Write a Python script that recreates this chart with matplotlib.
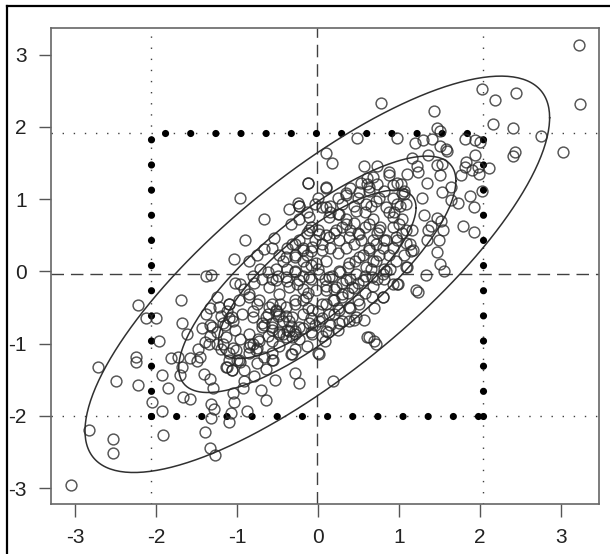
import numpy as np
import matplotlib.pyplot as plt
from matplotlib.lines import Line2D

plt.rcParams['font.family'] = ['Liberation Sans', 'DejaVu Sans']
plt.rcParams['lines.scale_dashes'] = False

# scatter points
x_pts = [3.22, 3.23, 2.03, 2.18, 2.45, 2.16, 2.41, 2.75, 3.02, 2.43, 2.41, 1.43, 0.78, 1.47, 1.50,
         0.48, 0.98, 1.82, 1.94, 2.00, 1.20, 1.30, 1.41, 1.50, 1.58, 1.59, 0.10, 0.17, 1.36, 1.16,
         1.94, 2.11, 1.99, 1.98, 1.81, 1.83, 1.90, 1.77, 1.53, 1.50, 1.47, 1.22, 1.23, 0.57, 0.73,
         0.87, 0.87, 1.10, 0.68, 0.53, 0.61, 1.35, 1.64, 1.53, 2.03, 0.98, 1.02, 1.06, 1.06, -0.12,
         0.10, -0.97, 1.64, 1.73, 1.88, 1.28, 0.97, 1.01, 1.93, 1.79, 1.93, 1.31, 1.47, 1.52, 1.40,
         1.36, 1.54, 1.35, 1.49, 1.47, 1.50, 1.55, 1.33, 1.23, 1.10, 0.99, 1.15, 1.09, 1.04, 0.92,
         -0.67, -0.90, -1.04, -0.36, -0.25, -0.24, -0.34, -0.54,
         -1.39, -1.32, -2.23, -1.69, -2.13, -2.00, -1.68, -1.62, -1.34, -1.33, -1.40, -1.97, -2.72,
         -2.25, -2.25, -2.23, -2.50, -2.05, -1.93, -1.92, -2.83, -2.53, -2.54, -3.05, -1.82, -1.73,
         -1.93, -1.86, -1.71, -1.67, -1.58, -1.50, -1.46, -1.41, -1.33, -1.30, -1.32, -1.29, -1.32,
         -1.40, -1.34, -1.27, -1.10, -1.08, -0.88, -0.93, -0.91, -1.05, -1.04, -1.13, -1.06, -1.00,
         -0.97, -0.79, -0.65, -0.71, -0.65, -0.53, -0.56, -0.28, -0.24, -0.34, 0.00, 0.19, 0.09,
         0.12, 0.25, 0.29, 0.44, 0.57, 0.61, 0.69, 0.69, 0.80, 0.97, 0.89, 0.81,
         -1.25, -1.10, -1.03, -0.96, -1.13, -1.10, -1.05, -1.20, -1.15, -1.03, -0.97, -0.86, -0.84,
         -0.76, -0.74, -1.25, -1.14, -1.25, -0.62, -0.57, -0.48, -0.38, -0.28, -0.24, -0.33, -0.67,
         -0.62, -0.52, -0.47, -0.57, -0.50, -0.40, -0.81, -0.76, -0.86, -0.91, -0.79, -0.69, -0.57,
         -0.50, -0.38, -0.26, -0.19, -0.12, -0.19, -0.28, -0.12, -0.09, 0.00, 0.10, 0.20, 0.25,
         0.37, 0.44, 0.49, 0.58, 0.65, 0.68, 0.75, 0.80, 0.82, 0.73, 0.77, 0.68, 0.58, 0.65, 0.75,
         0.82, 0.87, 0.92, 0.49, 0.44, 0.34, 0.25, 0.15, 0.05, 0.15, 0.25, 0.34, 0.29, 0.20, 0.10,
         0.00, -0.09, -0.14, -0.04, 0.05, 0.15, 0.25, 0.34, 0.44, 0.53, 0.49, 0.39, 0.44, 0.58,
         0.63, 0.56, 0.46, 0.37, 0.27, 0.17, 0.08, 0.00, -0.09, -0.19, -0.28, -0.38, -0.28, -0.19,
         -0.09, -0.14, -0.48, -0.43, -0.52, -0.62, -0.72, -0.81, -0.86, -0.76, -0.67, -0.57, -0.38,
         -0.28, -0.19, -0.09, 0.10, 0.20, 0.29, 0.39, 0.29, 0.20, 0.05, 0.39, 0.49, 0.58, 0.68,
         0.73, 0.82, -0.04, -0.09, -0.19, 0.05, 0.15, -0.28, -0.14, -0.48, -0.57, -0.67,
         -1.10, -1.05, -1.20, -0.86, -0.76, -0.91, -1.43, -1.33, -1.49, -1.58, -1.68,
         -0.24, -0.14, -0.04, 0.00, 0.29, 0.39, 0.63, 0.73, 0.61, 1.13, 1.04, 1.16, 1.06, 0.87,
         0.92, 0.97, 0.94, 0.68,
         # dense centre
         -0.13, 0.10, 0.34, 0.51, 0.63, 0.92, 1.04, 1.09, -0.24, -0.11, 0.10, 0.14, 0.26, 0.34,
         0.22, 0.47, 0.59, 0.71, 0.84, 0.92, 1.00, 0.75, 0.63, 0.51, 0.38, 0.26, 0.14, 0.01,
         -0.11, -0.24, -0.32, -0.40, -0.28, -0.19, -0.07, 0.05, 0.10, -0.03, -0.15, -0.28, -0.40,
         -0.52, -0.61, -0.48, -0.36, -0.24, -0.11, 0.01, 0.14, 0.26, 0.38, 0.51, 0.63, 0.71, 0.84,
         0.96, 1.09, 1.17, 1.09, 0.96, 0.84, 0.71, 0.59, 0.47, 0.34, 0.22, 0.10, -0.03, -0.15,
         -0.28, -0.40, -0.52, -0.65, -0.69, -0.57, -0.44, -0.32, -0.19, -0.07, 0.05, 0.18, 0.30,
         0.42, 0.55, 0.67, 0.80, 0.92, 1.21, 0.80, 0.67, 0.51, 0.38, 0.26, 0.14, 0.01, -0.11,
         -0.24, -0.36, -0.48, -0.32, -0.07, 0.10, 0.26, 0.38, 0.63, 0.71, 0.47, 0.01, -0.32, -0.57,
         # lower-left cluster
         -1.10, -0.98, -0.85, -0.73, -0.61, -0.48, -0.36, -0.28, -0.44, -0.57, -0.69, -0.81, -0.94,
         -1.06, -1.18, -1.31, -1.35, -1.18, -1.02, -0.85, -0.73, -0.57, -0.40, -1.10, -0.98, -1.06,
         -1.14, -0.81, -0.77, -1.39, -1.23]
y_pts = [3.14, 2.32, 2.53, 2.38, 2.47, 2.04, 1.98, 1.88, 1.66, 1.65, 1.60, 2.22, 2.33, 1.99, 1.94,
         1.85, 1.85, 1.83, 1.82, 1.79, 1.78, 1.82, 1.83, 1.74, 1.69, 1.67, 1.64, 1.50, 1.61, 1.57,
         1.61, 1.43, 1.35, 1.45, 1.45, 1.52, 1.40, 1.33, 1.49, 1.34, 1.47, 1.46, 1.38, 1.46, 1.46,
         1.38, 1.33, 1.35, 1.31, 1.23, 1.21, 1.23, 1.17, 1.10, 1.11, 1.23, 1.21, 1.11, 1.07, 1.22,
         1.16, 1.01, 0.99, 0.95, 1.04, 1.02, 0.94, 0.91, 0.89, 0.63, 0.55, 0.78, 0.74, 0.70, 0.63,
         0.57, 0.57, 0.43, 0.43, 0.27, 0.10, 0.00, -0.05, -0.29, 0.06, -0.18, 0.28, 0.39, 0.72, 0.61,
         0.73, 0.43, 0.17, 0.87, 0.95, 0.90, 0.65, 0.46,
         -0.07, -0.05, -0.47, -0.40, -0.64, -0.64, -0.72, -0.86, -0.51, -0.74, -0.98, -0.96, -1.32,
         -1.19, -1.25, -1.57, -1.52, -1.81, -1.93, -2.26, -2.19, -2.32, -2.52, -2.96, -1.20, -1.19,
         -1.44, -1.61, -1.43, -1.74, -1.76, -1.24, -1.19, -1.42, -1.49, -1.62, -1.83, -1.91, -2.03,
         -2.22, -2.44, -2.54, -2.08, -1.96, -1.93, -1.62, -1.52, -1.69, -1.81, -1.32, -1.37, -1.23,
         -1.25, -1.45, -1.35, -1.64, -1.78, -1.51, -1.23, -1.40, -1.54, -1.15, -1.13, -1.52, -0.97,
         -0.84, -0.81, -0.69, -0.67, -0.67, -0.91, -0.97, -0.50, -0.35, -0.18, 0.04, 0.03,
         -0.36, -0.45, -0.16, -0.18, -0.55, -0.64, -0.69, -0.62, -0.74, -0.81, -0.93, -0.86, -1.01,
         -1.06, -0.93, -1.01, -0.91, -0.84, -0.89, -0.81, -0.84, -0.81, -0.86, -0.93, -0.76, -0.74,
         -0.59, -0.55, -0.45, -0.45, -0.62, -0.62, -0.55, -0.45, -0.35, -0.25, -0.16, -0.11, -0.11,
         -0.06, -0.13, -0.18, -0.25, -0.30, -0.40, -0.45, -0.50, -0.64, -0.55, -0.45, -0.40, -0.50,
         -0.30, -0.23, -0.16, -0.06, 0.04, 0.14, 0.23, 0.33, 0.43, 0.53, 0.62, 0.72, 0.82, 0.91, 1.01,
         1.11, 0.82, 1.01, 1.01, 0.91, 1.06, 1.01, 0.91, 0.89, 0.82, 0.79, 0.72, 0.62, 0.53, 0.50,
         0.57, 0.62, 0.53, 0.43, 0.38, 0.33, 0.26, 0.33, 0.38, 0.43, 0.53, 0.57, 0.67, 0.62,
         0.33, 0.23, 0.14, 0.06, -0.01, -0.06, -0.11, 0.04, 0.09, 0.14, 0.23, 0.33, 0.38, 0.33,
         0.28, 0.23, 0.23, 0.14, 0.04, -0.01, 0.04, -0.06, 0.14, 0.23, 0.31, 0.33, 0.04,
         -0.01, -0.06, -0.11, -0.20, -0.25, -0.16, -0.11, -0.35, -0.59, -0.64, -0.50, -0.40, -0.30, -0.20,
         -0.11, -0.11, -0.74, -0.84, -0.79, -0.89, -0.74, -1.08, -1.03, -1.03, -1.13, -1.18,
         -1.13, -1.06, -1.08, -1.13, -1.27, -1.37, -0.79, -0.89, -1.08, -1.20, -1.32,
         0.72, 0.82, 0.94, 1.01, 0.94, 1.16, 1.11, 1.21, 1.30, 0.38, 0.53, 0.57, 0.23, 0.23,
         0.33, 0.43, 0.82, 0.43,
         # dense centre
         1.22, 1.17, 1.08, 1.10, 1.17, 1.19, 1.08, 0.94, 0.91, 0.75, 0.89, 0.75, 0.80, 0.66,
         0.57, 0.84, 0.94, 0.98, 0.89, 0.75, 0.66, 0.57, 0.66, 0.52, 0.48, 0.43, 0.48, 0.52,
         0.57, 0.43, 0.38, 0.20, 0.20, 0.29, 0.34, 0.29, 0.15, 0.11, 0.06, 0.01, -0.08,
         -0.12, -0.22, -0.31, -0.22, -0.12, -0.08, -0.03, -0.08, 0.01, 0.11, 0.20, 0.29, 0.38, 0.43,
         0.48, 0.57, 0.29, 0.06, 0.15, 0.01, 0.15, 0.06, -0.03, -0.12, -0.22, -0.26, -0.26, -0.36,
         -0.40, -0.49, -0.54, -0.63, -0.77, -0.72, -0.68, -0.63, -0.59, -0.54, -0.45, -0.40, -0.31,
         -0.22, -0.12, -0.08, -0.03, -0.17, -0.26, -0.36, -0.36, -0.45, -0.49, -0.54, -0.59, -0.68, -0.72,
         -0.77, -0.82, -0.86, -0.91, -0.86, -0.82, -0.72, -0.68, -0.91, -1.00, -0.63, -1.14, -1.14, -1.23,
         # lower-left cluster
         -0.45, -0.40, -0.31, -0.40, -0.49, -0.59, -0.68, -0.82, -0.86, -0.77, -0.72, -0.63, -0.59,
         -0.63, -0.72, -0.77, -1.00, -1.00, -1.09, -1.05, -0.96, -0.96, -0.91, -1.23, -1.23, -1.37,
         -1.33, -1.00, -1.09, -0.59, -0.49]

# reference lines: means and mean +/- 2 sd
x_mean, y_mean = -0.01, -0.04
x_lo, x_hi = -2.06, 2.04
y_lo, y_hi = -2.00, 1.92

# concentration ellipses
sd_x, sd_y, rho = 1.025, 0.98, 0.79
radii = [1.19, 1.67, 2.80]

x_ticks = [-3, -2, -1, 0, 1, 2, 3]
y_ticks = [-3, -2, -1, 0, 1, 2, 3]

fig = plt.figure(figsize=(6.10, 5.54), dpi=100)
ax = fig.add_axes([51/610, 50/554, 548/610, 476/554])

gray = '#404040'
ax.axvline(x_mean, color=gray, lw=1.0, dashes=(9, 5))
ax.axhline(y_mean, color=gray, lw=1.0, dashes=(9, 5))
for v in (x_lo, x_hi):
    ax.axvline(v, color=gray, lw=1.0, dashes=(1, 7))
for v in (y_lo, y_hi):
    ax.axhline(v, color=gray, lw=1.0, dashes=(1, 7))

# thick dotted box
dot = dict(color='black', lw=5.2, dash_capstyle='round')
ax.plot([x_lo, x_hi], [y_lo, y_lo], linestyle=(0, (0.01, 18.1)), **dot)
ax.plot([x_hi, x_hi], [y_lo, y_hi], linestyle=(0, (0.01, 18.1)), **dot)
ax.plot([x_lo, x_lo], [y_lo, y_hi], linestyle=(0, (0.01, 18.1)), **dot)
ax.plot([x_lo, x_hi], [y_hi, y_hi], linestyle=(8.0, (0.01, 18.1)), **dot)

t = np.linspace(0, 2 * np.pi, 300)
for r in radii:
    ex = x_mean + r * sd_x * np.cos(t)
    ey = y_mean + r * sd_y * (rho * np.cos(t) + np.sqrt(1 - rho**2) * np.sin(t))
    ax.plot(ex, ey, color='#303030', lw=1.1)

ax.plot(x_pts, y_pts, 'o', ms=7.8, mfc='none', mec='#2a2a2a', mew=1.05, alpha=0.8)

ax.set_xlim(-3.30, 3.47)
ax.set_ylim(-3.22, 3.37)
ax.set_xticks(x_ticks)
ax.set_yticks(y_ticks)
ax.set_xticklabels([str(v) for v in x_ticks])
ax.set_yticklabels([str(v) for v in y_ticks])
ax.tick_params(direction='out', length=9, width=1.0, color='#555555',
               labelsize=15, labelcolor='#222222', pad=8.5)
for s in ax.spines.values():
    s.set_color('#666666')
    s.set_linewidth(1.2)

# outer screenshot border (left and top edges only are visible)
fig.add_artist(Line2D([7/610, 7/610], [0, 548/554], transform=fig.transFigure, color='black', lw=1.6))
fig.add_artist(Line2D([7/610, 1], [548/554, 548/554], transform=fig.transFigure, color='black', lw=1.6))

fig.savefig('out.png', dpi=100)
